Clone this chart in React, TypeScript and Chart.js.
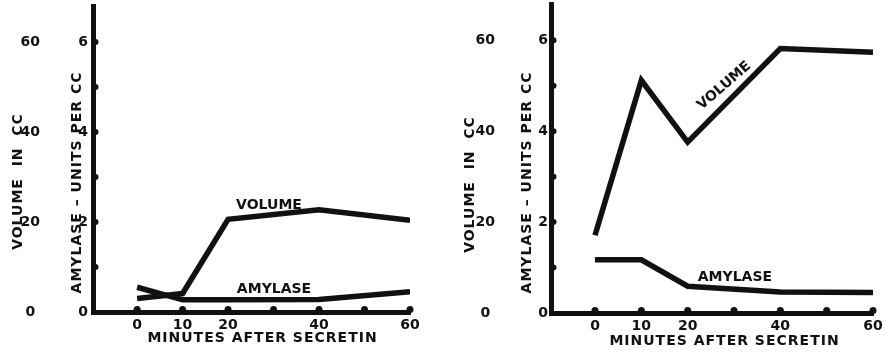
import React, { useEffect, useRef } from 'react';
import { Chart, registerables } from 'chart.js';

Chart.register(...registerables);

// ---------- data ----------
const minutes = [0, 10, 20, 40, 60];
const leftVolumeCc = [3.0, 4.1, 20.6, 22.7, 20.4];
const leftAmylaseUnits = [0.55, 0.27, 0.27, 0.28, 0.45];
const rightVolumeCc = [17.1, 51.2, 37.6, 58.2, 57.4];
const rightAmylaseUnits = [1.17, 1.17, 0.59, 0.46, 0.45];

const xTickValues = [0, 10, 20, 30, 40, 50, 60];
const xLabeledValues = [0, 10, 20, 40, 60];
const amylaseTickValues = [0, 1, 2, 3, 4, 5, 6];
const amylaseLabeledValues = [0, 2, 4, 6];
const volumeTickValues = [0, 20, 40, 60];

const xTitle = 'MINUTES AFTER SECRETIN';
const volumeTitle = 'VOLUME  IN  CC';
const amylaseTitle = 'AMYLASE – UNITS PER CC';
const volumeLabel = 'VOLUME';
const amylaseLabel = 'AMYLASE';

// ---------- style ----------
const INK = '#111111';
const FONT = '"DejaVu Sans", sans-serif';

type TextItem = {
  text: string;
  px?: number;
  py?: number;
  x?: number;
  y?: number;
  rot: number;
  size: number;
  spacing: number;
};

type PanelProps = {
  volume: number[];
  amylase: number[];
  width: number;
  xMin: number;
  padTop: number;
  padRight: number;
  volumeAxisWidth: number;
  amylaseAxisWidth: number;
  volumeTickPad: number;
  amylaseTickPad: number;
  xAxisHeight: number;
  texts: TextItem[];
};

function zeroPad(s: any) {
  s.paddingTop = 0;
  s.paddingBottom = 0;
  s.paddingLeft = 0;
  s.paddingRight = 0;
}

function Panel(p: PanelProps) {
  const ref = useRef<HTMLCanvasElement | null>(null);
  useEffect(() => {
    if (!ref.current) return;
    const annotate = {
      id: 'annotate',
      afterDraw(chart: any) {
        const ctx = chart.ctx as CanvasRenderingContext2D;
        const area = chart.chartArea;
        const xs = chart.scales.x;
        const ya = chart.scales.yA;
        ctx.save();
        ctx.fillStyle = INK;
        for (const t of xs.ticks) {
          const px = xs.getPixelForValue(t.value);
          ctx.beginPath();
          ctx.arc(px, area.bottom - 2.5, 3.5, 0, Math.PI * 2);
          ctx.fill();
        }
        for (const t of ya.ticks) {
          if (t.value === 0) continue;
          const py = ya.getPixelForValue(t.value);
          ctx.beginPath();
          ctx.arc(area.left + 2.5, py, 3, 0, Math.PI * 2);
          ctx.fill();
        }
        ctx.textAlign = 'center';
        ctx.textBaseline = 'middle';
        for (const item of p.texts) {
          const cx = item.px !== undefined ? item.px : xs.getPixelForValue(item.x);
          const cy = item.py !== undefined ? item.py : ya.getPixelForValue(item.y);
          ctx.save();
          ctx.translate(cx, cy);
          ctx.rotate((item.rot * Math.PI) / 180);
          ctx.font = `bold ${item.size}px ${FONT}`;
          (ctx as any).letterSpacing = `${item.spacing}px`;
          ctx.fillText(item.text, item.spacing / 2, 0);
          ctx.restore();
        }
        ctx.restore();
      },
    };

    const lineStyle = {
      borderColor: INK,
      borderWidth: 5.5,
      pointRadius: 0,
      fill: false,
      tension: 0,
      borderJoinStyle: 'miter' as const,
      borderCapStyle: 'butt' as const,
    };

    const tickFont = { family: FONT, size: 14, weight: 'bold' as const };

    const chart = new Chart(ref.current, {
      type: 'line',
      data: {
        datasets: [
          {
            label: volumeLabel,
            data: minutes.map((m, i) => ({ x: m, y: p.volume[i] })),
            yAxisID: 'yV',
            ...lineStyle,
          },
          {
            label: amylaseLabel,
            data: minutes.map((m, i) => ({ x: m, y: p.amylase[i] })),
            yAxisID: 'yA',
            ...lineStyle,
          },
        ],
      },
      options: {
        animation: false,
        responsive: false,
        devicePixelRatio: 1,
        layout: { padding: { left: 0, top: p.padTop, right: p.padRight, bottom: 0 } },
        plugins: { legend: { display: false }, tooltip: { enabled: false } },
        scales: {
          x: {
            type: 'linear',
            position: 'bottom',
            min: p.xMin,
            max: 60,
            grid: { display: false, drawTicks: false },
            border: { display: true, width: 5, color: INK },
            afterBuildTicks: (s: any) => {
              s.ticks = xTickValues.map((v) => ({ value: v }));
            },
            afterFit: (s: any) => {
              s.height = p.xAxisHeight;
              zeroPad(s);
            },
            ticks: {
              color: INK,
              padding: 5,
              autoSkip: false,
              maxRotation: 0,
              font: tickFont,
              callback: (v: any) => (xLabeledValues.includes(Number(v)) ? String(v) : ''),
            },
          },
          yA: {
            type: 'linear',
            position: 'left',
            weight: 0,
            min: 0,
            max: 6.8,
            grid: { display: false, drawTicks: false },
            border: { display: true, width: 5, color: INK },
            afterBuildTicks: (s: any) => {
              s.ticks = amylaseTickValues.map((v) => ({ value: v }));
            },
            afterFit: (s: any) => {
              s.width = p.amylaseAxisWidth;
              zeroPad(s);
            },
            ticks: {
              color: INK,
              padding: p.amylaseTickPad,
              autoSkip: false,
              font: tickFont,
              callback: (v: any) => (amylaseLabeledValues.includes(Number(v)) ? String(v) : ''),
            },
          },
          yV: {
            type: 'linear',
            position: 'left',
            weight: 1,
            min: 0,
            max: 68,
            grid: { display: false, drawTicks: false },
            border: { display: false },
            afterBuildTicks: (s: any) => {
              s.ticks = volumeTickValues.map((v) => ({ value: v }));
            },
            afterFit: (s: any) => {
              s.width = p.volumeAxisWidth;
              zeroPad(s);
            },
            ticks: {
              color: INK,
              padding: p.volumeTickPad,
              autoSkip: false,
              crossAlign: 'center',
              font: tickFont,
              callback: (v: any) => String(v),
            },
          },
        },
      },
      plugins: [annotate],
    } as any);
    return () => chart.destroy();
  }, [p]);
  return <canvas ref={ref} width={p.width} height={354} style={{ display: 'block' }} />;
}

const leftPanel: PanelProps = {
  volume: leftVolumeCc,
  amylase: leftAmylaseUnits,
  width: 442,
  xMin: -9.7,
  padTop: 6,
  padRight: 32,
  volumeAxisWidth: 45,
  amylaseAxisWidth: 48,
  volumeTickPad: 5,
  amylaseTickPad: 5,
  xAxisHeight: 42,
  texts: [
    { text: xTitle, px: 262, py: 338, rot: 0, size: 14, spacing: 1 },
    { text: volumeTitle, px: 18.5, py: 182, rot: -90, size: 14, spacing: 1 },
    { text: amylaseTitle, px: 77, py: 183, rot: -90, size: 14, spacing: 1 },
    { text: volumeLabel, x: 29.0, y: 2.37, rot: 0, size: 14, spacing: 0 },
    { text: amylaseLabel, x: 30.1, y: 0.5, rot: 0, size: 14, spacing: 0 },
  ],
};

const rightPanel: PanelProps = {
  volume: rightVolumeCc,
  amylase: rightAmylaseUnits,
  width: 443,
  xMin: -9.5,
  padTop: 4,
  padRight: 12,
  volumeAxisWidth: 60,
  amylaseAxisWidth: 49,
  volumeTickPad: 7,
  amylaseTickPad: 3,
  xAxisHeight: 41,
  texts: [
    { text: xTitle, px: 282, py: 341, rot: 0, size: 14, spacing: 1 },
    { text: volumeTitle, px: 28, py: 185, rot: -90, size: 14, spacing: 1 },
    { text: amylaseTitle, px: 85, py: 183, rot: -90, size: 14, spacing: 1 },
    { text: volumeLabel, x: 27.9, y: 5.0, rot: -41, size: 14, spacing: 0 },
    { text: amylaseLabel, x: 30.2, y: 0.78, rot: 0, size: 14, spacing: 0 },
  ],
};

export default function App() {
  return (
    <div style={{ position: 'absolute', left: 0, top: 0, width: 885, height: 354, background: '#fff' }}>
      <div style={{ position: 'absolute', left: 0, top: 0 }}>
        <Panel {...leftPanel} />
      </div>
      <div style={{ position: 'absolute', left: 442, top: 0 }}>
        <Panel {...rightPanel} />
      </div>
    </div>
  );
}
